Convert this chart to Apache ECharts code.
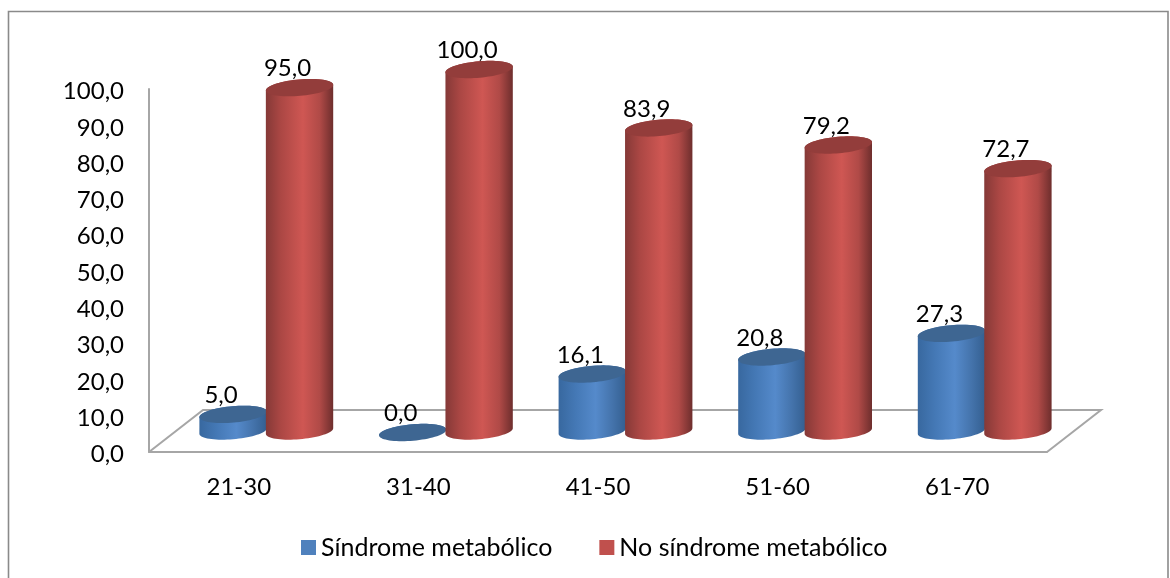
<!DOCTYPE html>
<html>
<head>
<meta charset="utf-8">
<title>Síndrome metabólico</title>
<script src="https://cdn.jsdelivr.net/npm/echarts@6/dist/echarts.min.js"></script>
<style>
  html, body { margin: 0; padding: 0; background: #fff; }
  #main1 { width: 1170px; height: 578px; }
</style>
</head>
<body>
<div id="main1"></div>
<script>
const categories = ["21-30", "31-40", "41-50", "51-60", "61-70"];
const sindrome = [5.0, 0.0, 16.1, 20.8, 27.3];
const noSindrome = [95.0, 100.0, 83.9, 79.2, 72.7];
const seriesNames = ["Síndrome metabólico", "No síndrome metabólico"];

const FONT = "Lato";
const GRAY = "#a6a6a6";
// perspective shift of the floor
const DEPTH_X = 54;
const DEPTH_Y = 42;
// cylinder
const RX = 33.8;
const RY = 8.2;
const TILT = 0.088;

function fmt(v) {
  return v.toFixed(1).replace(".", ",");
}

// point on the tilted ellipse
function pt(cx, cy, t) {
  const a = RX * Math.cos(t);
  const b = RY * Math.sin(t);
  return [cx + a * Math.cos(TILT) + b * Math.sin(TILT), cy - a * Math.sin(TILT) + b * Math.cos(TILT)];
}

function ellipse(cx, cy) {
  const pts = [];
  for (let i = 0; i < 72; i++) pts.push(pt(cx, cy, (i / 72) * Math.PI * 2));
  return pts;
}

function bodyPolygon(cx, topY, baseY) {
  const t0 = Math.atan((RY * Math.sin(TILT)) / (RX * Math.cos(TILT)));
  const pts = [];
  // lower half of the base, right to left
  for (let i = 0; i <= 36; i++) pts.push(pt(cx, baseY, t0 + (i / 36) * Math.PI));
  // upper half of the top, left to right
  for (let i = 0; i <= 36; i++) pts.push(pt(cx, topY, t0 + Math.PI + (i / 36) * Math.PI));
  return pts;
}

function sideGradient(stops) {
  return new echarts.graphic.LinearGradient(0, 0, 1, 0, stops.map((c) => ({ offset: c[0], color: c[1] })));
}

const blueSide = sideGradient([[0, "#38689f"], [0.25, "#4478b5"], [0.55, "#558acb"], [0.8, "#4473ab"], [1, "#345f90"]]);
const redSide = sideGradient([[0, "#853937"], [0.22, "#ab4744"], [0.55, "#cf5753"], [0.8, "#b04a47"], [1, "#6e2e2d"]]);

function cylinder(side, topColor, dir) {
  return function (params, api) {
    const value = api.value(1);
    const band = api.size([1, 0])[0];
    const top = api.coord([api.value(0), value]);
    const base = api.coord([api.value(0), 0]);
    const cx = top[0] + DEPTH_X / 2 + 0.5 + (dir * band * 0.37) / 2;
    const topY = top[1] - DEPTH_Y / 2 + 1.5;
    const baseY = base[1] - DEPTH_Y / 2;
    return {
      type: "group",
      children: [
        { type: "polygon", shape: { points: bodyPolygon(cx, topY, baseY) }, style: { fill: side } },
        { type: "polygon", shape: { points: ellipse(cx, topY) }, style: { fill: topColor } },
        {
          type: "text",
          z2: 10,
          style: {
            text: fmt(value),
            x: cx - 12,
            y: topY - 19,
            align: "center",
            verticalAlign: "middle",
            fill: "#000",
            font: "24px " + FONT,
          },
        },
      ],
    };
  };
}

function renderFloor(params, api) {
  const c = params.coordSys;
  const bottom = c.y + c.height;
  return {
    type: "polyline",
    shape: {
      points: [
        [c.x, bottom],
        [c.x + DEPTH_X, bottom - DEPTH_Y],
        [c.x + c.width + DEPTH_X, bottom - DEPTH_Y],
        [c.x + c.width, bottom],
      ],
    },
    style: { fill: null, stroke: GRAY, lineWidth: 2 },
  };
}

const myChart = echarts.init(document.getElementById("main1"));
const option = {
  animation: false,
  backgroundColor: "#fff",
  textStyle: { fontFamily: FONT },
  graphic: [
    {
      type: "rect",
      silent: true,
      shape: { x: 8.5, y: 11.5, width: 1159.5, height: 580 },
      style: { fill: null, stroke: "#8a8a8a", lineWidth: 1.6 },
    },
  ],
  grid: { left: 149, right: 123, top: 89, bottom: 126 },
  legend: {
    data: seriesNames,
    left: 296,
    top: 530,
    icon: "rect",
    itemWidth: 15,
    itemHeight: 15,
    itemGap: 47,
    selectedMode: false,
    textStyle: { fontFamily: FONT, fontSize: 25, color: "#000" },
  },
  xAxis: {
    type: "category",
    data: categories,
    axisTick: { show: false },
    axisLine: { lineStyle: { color: GRAY, width: 2 } },
    axisLabel: { color: "#000", fontFamily: FONT, fontSize: 24, margin: 23, interval: 0 },
  },
  yAxis: {
    type: "value",
    min: 0,
    max: 100,
    interval: 10,
    splitLine: { show: false },
    axisTick: { show: false },
    axisLine: { show: true, lineStyle: { color: GRAY, width: 2 } },
    axisLabel: {
      margin: 25,
      formatter: (v) => "{v|" + fmt(v) + "}",
      rich: { v: { color: "#000", fontFamily: FONT, fontSize: 24, padding: [5, 0, 0, 0] } },
    },
  },
  series: [
    {
      name: "floor",
      type: "custom",
      silent: true,
      z: 1,
      data: [[0, 0]],
      renderItem: renderFloor,
    },
    {
      name: seriesNames[0],
      type: "custom",
      z: 3,
      itemStyle: { color: "#4f81bd" },
      encode: { x: 0, y: 1 },
      data: sindrome.map((v, i) => [i, v]),
      renderItem: cylinder(blueSide, "#3e6692", -1),
    },
    {
      name: seriesNames[1],
      type: "custom",
      z: 4,
      itemStyle: { color: "#c0504d" },
      encode: { x: 0, y: 1 },
      data: noSindrome.map((v, i) => [i, v]),
      renderItem: cylinder(redSide, "#933d3b", 1),
    },
  ],
};
myChart.setOption(option);
</script>
</body>
</html>
